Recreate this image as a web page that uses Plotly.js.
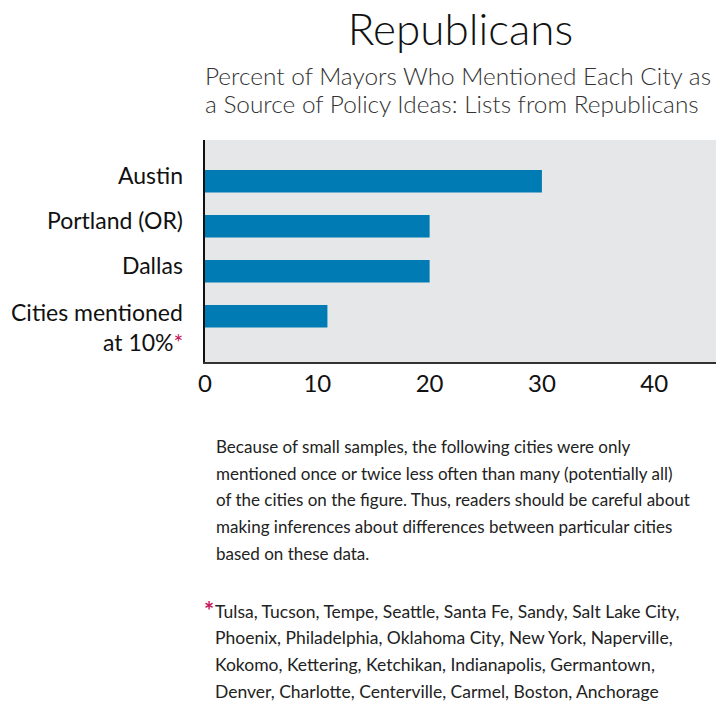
<!DOCTYPE html>
<html><head><meta charset="utf-8">
<script src="https://cdn.plot.ly/plotly-3.0.1.min.js"></script>
<style>html,body{margin:0;padding:0;background:#fff}</style>
</head><body><div id="chart" style="width:728px;height:704px"></div>
<script>
const categories = ["Austin", "Portland (OR)", "Dallas", "Cities mentioned at 10%"];
const percents = [30, 20, 20, 10.9];
const xTicks = [0, 10, 20, 30, 40];
const labelLines = [
  ["Austin"],
  ["Portland (OR)"],
  ["Dallas"],
  ["Cities mentioned", "at 10%<span style='color:#c8175d'>*</span>"]
];
const titleText = "Republicans";
const subtitleLines = [
  "Percent of Mayors Who Mentioned Each City as",
  "a Source of Policy Ideas: Lists from Republicans"
];
const noteLines = [
  "Because of small samples, the following cities were only",
  "mentioned once or twice less often than many (potentially all)",
  "of the cities on the figure. Thus, readers should be careful about",
  "making inferences about differences between particular cities",
  "based on these data."
];
const footLines = [
  "Tulsa, Tucson, Tempe, Seattle, Santa Fe, Sandy, Salt Lake City,",
  "Phoenix, Philadelphia, Oklahoma City, New York, Naperville,",
  "Kokomo, Kettering, Ketchikan, Indianapolis, Germantown,",
  "Denver, Charlotte, Centerville, Carmel, Boston, Anchorage"
];

const W = 728, H = 704;
const M = {l: 205, r: 12, t: 140, b: 342};
const pw = W - M.l - M.r, ph = H - M.t - M.b;
const pxX = x => (x - M.l) / pw;
const pxY = y => (H - M.b - y) / ph;
const FONT = "Lato, 'Noto Sans', sans-serif";

const annotations = [];
labelLines.forEach((lines, i) => {
  lines.forEach((ln, j) => {
    annotations.push({
      text: ln, xref: 'paper', x: 0, xanchor: 'right', xshift: -20,
      yref: 'y', y: categories[i], yanchor: 'middle', yshift: (lines.length > 1 ? 4 : 6) - j * 30,
      showarrow: false, font: {family: FONT, size: 23, color: '#111'}
    });
  });
});
subtitleLines.forEach((ln, j) => {
  annotations.push({
    text: ln, xref: 'paper', x: pxX(203), xanchor: 'left',
    yref: 'paper', y: pxY(75.5 + j * 28), yanchor: 'middle',
    showarrow: false, font: {family: FONT, size: 24.4, color: '#333', weight: 300}
  });
});
noteLines.forEach((ln, j) => {
  annotations.push({
    text: ln, xref: 'paper', x: pxX(214), xanchor: 'left',
    yref: 'paper', y: pxY(447 + j * 26.5), yanchor: 'middle',
    showarrow: false, font: {family: FONT, size: 17, color: '#222'}
  });
});
annotations.push({
  text: "*", xref: 'paper', x: pxX(202), xanchor: 'left',
  yref: 'paper', y: pxY(610), yanchor: 'middle',
  showarrow: false, font: {family: FONT, size: 24, color: '#c8175d', weight: 700}
});
footLines.forEach((ln, j) => {
  annotations.push({
    text: ln, xref: 'paper', x: pxX(213), xanchor: 'left',
    yref: 'paper', y: pxY(611 + j * 26.7), yanchor: 'middle',
    showarrow: false, font: {family: FONT, size: 17.5, color: '#222'}
  });
});

const data = [{
  type: 'bar', orientation: 'h',
  x: percents, y: categories,
  marker: {color: '#007bb3'},
  hoverinfo: 'none'
}];

const layout = {
  width: W, height: H,
  margin: M,
  paper_bgcolor: '#fff',
  plot_bgcolor: '#e6e7e9',
  bargap: 0.5,
  showlegend: false,
  title: {
    text: titleText, xref: 'paper', x: 0.5, xanchor: 'center',
    yref: 'container', y: 1 - 30 / H, yanchor: 'middle',
    font: {family: FONT, size: 44, color: '#111', weight: 300}
  },
  xaxis: {
    range: [0, 45.5], tickvals: xTicks, ticktext: xTicks.map(String),
    showgrid: false, zeroline: false, ticks: '',
    showline: true, linecolor: '#333', linewidth: 1.5,
    tickfont: {family: FONT, size: 24, color: '#111'},
    fixedrange: true
  },
  yaxis: {
    type: 'category', categoryarray: categories, categoryorder: 'array',
    range: [4.016, -0.918],
    showgrid: false, zeroline: false, ticks: '', showticklabels: false,
    showline: true, linecolor: '#111', linewidth: 2,
    fixedrange: true
  },
  annotations: annotations
};

Plotly.newPlot('chart', data, layout, {staticPlot: true, displayModeBar: false});
</script>
</body></html>
